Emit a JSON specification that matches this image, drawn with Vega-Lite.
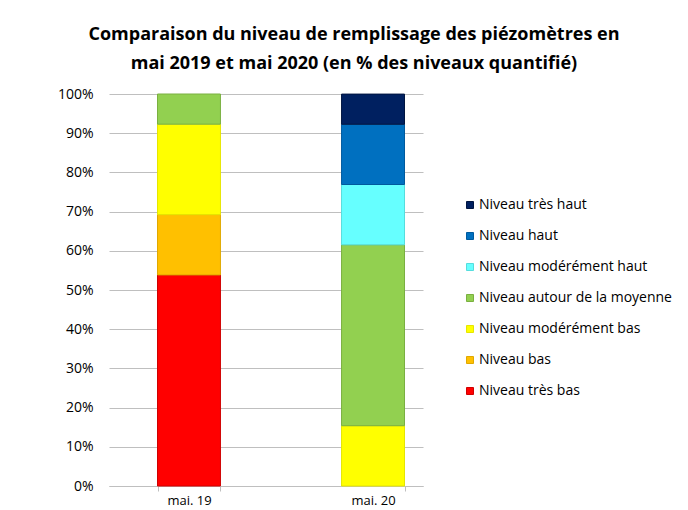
{
  "$schema": "https://vega.github.io/schema/vega-lite/v6.json",
  "width": 314,
  "height": 392,
  "padding": {"left": 57, "top": 26, "right": 5, "bottom": 0},
  "background": "white",
  "title": {
    "text": ["Comparaison du niveau de remplissage des piézomètres en", "mai 2019 et mai 2020 (en % des niveaux quantifié)"],
    "font": "Open Sans",
    "fontSize": 18,
    "fontWeight": "bold",
    "color": "#000000",
    "anchor": "middle",
    "frame": "group",
    "dx": 88,
    "lineHeight": 29,
    "offset": 14
  },
  "data": {
    "values": [
      {"mois": "mai. 19", "niveau": "Niveau très bas", "rang": 1, "part": 0.5385},
      {"mois": "mai. 19", "niveau": "Niveau bas", "rang": 2, "part": 0.1538},
      {"mois": "mai. 19", "niveau": "Niveau modérément bas", "rang": 3, "part": 0.2308},
      {"mois": "mai. 19", "niveau": "Niveau autour de la moyenne", "rang": 4, "part": 0.0769},
      {"mois": "mai. 20", "niveau": "Niveau modérément bas", "rang": 3, "part": 0.1538},
      {"mois": "mai. 20", "niveau": "Niveau autour de la moyenne", "rang": 4, "part": 0.4615},
      {"mois": "mai. 20", "niveau": "Niveau modérément haut", "rang": 5, "part": 0.1538},
      {"mois": "mai. 20", "niveau": "Niveau haut", "rang": 6, "part": 0.1538},
      {"mois": "mai. 20", "niveau": "Niveau très haut", "rang": 7, "part": 0.0769}
    ]
  },
  "mark": {"type": "bar", "strokeWidth": 1},
  "encoding": {
    "x": {
      "field": "mois",
      "type": "nominal",
      "sort": null,
      "scale": {"paddingInner": 0.658, "paddingOuter": 0.182, "align": 0.724},
      "axis": {
        "title": null,
        "labelAngle": 0,
        "labelFont": "Open Sans",
        "labelFontSize": 13,
        "labelColor": "#000000",
        "labelPadding": 3,
        "domainColor": "#bfbfbf",
        "tickColor": "#bfbfbf",
        "tickBand": "extent",
        "tickSize": 5,
        "grid": false
      }
    },
    "y": {
      "field": "part",
      "type": "quantitative",
      "stack": "zero",
      "scale": {"domain": [0, 1]},
      "axis": {
        "title": null,
        "format": ".0%",
        "values": [0, 0.1, 0.2, 0.3, 0.4, 0.5, 0.6, 0.7, 0.8, 0.9, 1],
        "labelFont": "Open Sans",
        "labelFontSize": 14,
        "labelColor": "#000000",
        "labelPadding": 16,
        "domain": false,
        "ticks": false,
        "grid": true,
        "gridColor": "#bfbfbf"
      }
    },
    "order": {"field": "rang", "type": "quantitative", "sort": "ascending"},
    "color": {
      "field": "niveau",
      "type": "nominal",
      "scale": {
        "domain": ["Niveau très haut", "Niveau haut", "Niveau modérément haut", "Niveau autour de la moyenne", "Niveau modérément bas", "Niveau bas", "Niveau très bas"],
        "range": ["#002060", "#0070c0", "#66ffff", "#92d050", "#ffff00", "#ffc000", "#ff0000"]
      },
      "legend": {
        "title": null,
        "orient": "none",
        "legendX": 354,
        "legendY": 104,
        "symbolType": "square",
        "symbolSize": 49,
        "symbolStrokeWidth": 1,
        "labelFont": "Open Sans",
        "labelFontSize": 14,
        "labelColor": "#000000",
        "labelLimit": 300,
        "rowPadding": 17,
        "labelOffset": 2
      }
    },
    "stroke": {
      "field": "niveau",
      "type": "nominal",
      "scale": {
        "domain": ["Niveau très haut", "Niveau haut", "Niveau modérément haut", "Niveau autour de la moyenne", "Niveau modérément bas", "Niveau bas", "Niveau très bas"],
        "range": ["#001540", "#005a9e", "#55dddd", "#7ab040", "#e6e600", "#e0a800", "#d00000"]
      },
      "legend": null
    }
  },
  "config": {"view": {"stroke": null}}
}
